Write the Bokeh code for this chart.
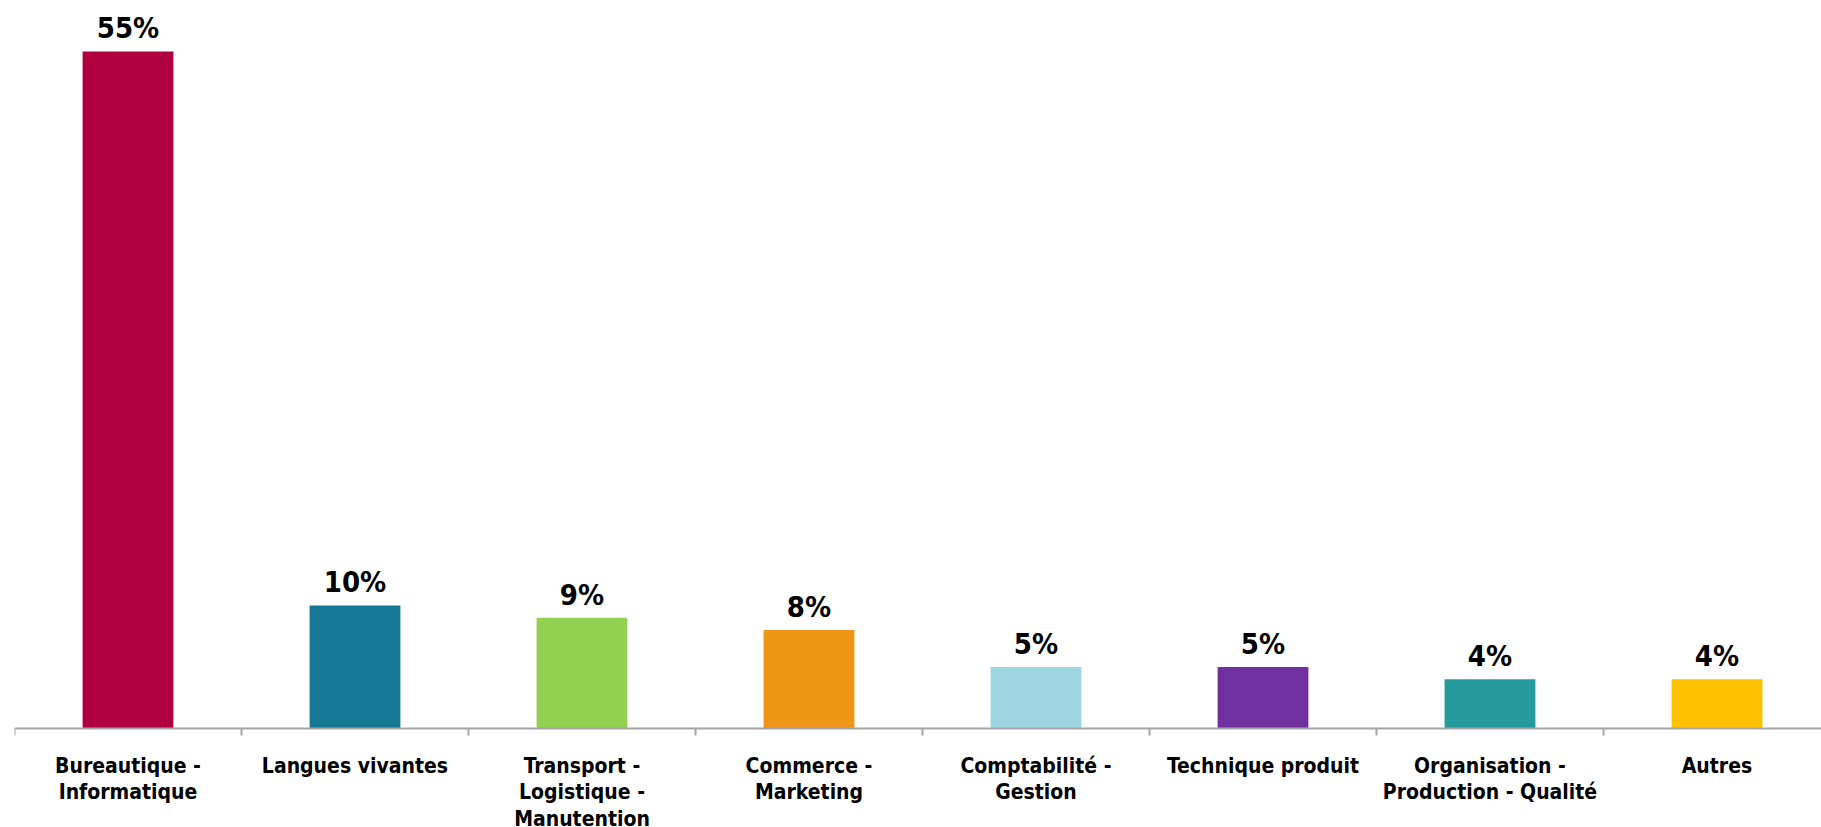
from bokeh.plotting import figure
from bokeh.models import Range1d, FixedTicker, LinearAxis, ColumnDataSource
from bokeh.core.properties import value
from bokeh.embed import file_html
from bokeh.resources import INLINE

categories = [
    "Bureautique -\nInformatique",
    "Langues vivantes",
    "Transport -\nLogistique -\nManutention",
    "Commerce -\nMarketing",
    "Comptabilité -\nGestion",
    "Technique produit",
    "Organisation -\nProduction - Qualité",
    "Autres",
]
values = [55, 10, 9, 8, 5, 5, 4, 4]
value_labels = ["55%", "10%", "9%", "8%", "5%", "5%", "4%", "4%"]
colors = ["#B1003E", "#167A96", "#92D050", "#EF9617", "#9DD5E2", "#7030A0", "#259A9A", "#FFC000"]

FONT = "DejaVu Sans Condensed"

W, H = 1821, 827
left = 14
cat_px = 227.0
frame_w = W - left
axis_y_px = 728
px_per_unit = 12.31

centers = [i + 0.5 for i in range(len(categories))]
src = ColumnDataSource(dict(x=centers, top=values, lab=value_labels, color=colors))

p = figure(width=W, height=H, output_backend="svg", toolbar_location=None,
           x_range=Range1d(0, frame_w / cat_px),
           y_range=Range1d(-(H - axis_y_px) / px_per_unit, axis_y_px / px_per_unit),
           x_axis_location=None, y_axis_location=None,
           min_border_left=left, min_border_right=0, min_border_top=0, min_border_bottom=0)
p.outline_line_color = None
p.xgrid.visible = False
p.ygrid.visible = False
p.background_fill_color = "white"
p.border_fill_color = "white"

p.vbar(x="x", top="top", bottom=0, width=0.4, color="color", line_color=None, source=src)
p.text(x="x", y="top", text="lab", source=src, text_align="center", text_baseline="alphabetic",
       y_offset=-23, text_font=value(FONT), text_font_style="bold", text_font_size="29px",
       text_color="black")

# axis with boundary ticks
ax1 = LinearAxis(fixed_location=0, ticker=FixedTicker(ticks=list(range(len(categories) + 1))))
ax1.axis_line_color = "#A6A6A6"
ax1.axis_line_width = 2
ax1.major_tick_line_color = "#A6A6A6"
ax1.major_tick_line_width = 2
ax1.major_tick_in = 0
ax1.major_tick_out = 7
ax1.minor_tick_line_color = None
ax1.major_label_text_font_size = "0px"
ax1.major_label_text_alpha = 0
p.add_layout(ax1, "below")

# axis with category labels at centres
ax2 = LinearAxis(fixed_location=0, ticker=FixedTicker(ticks=centers))
ax2.axis_line_color = None
ax2.major_tick_line_color = None
ax2.minor_tick_line_color = None
ax2.major_tick_out = 0
ax2.major_tick_in = 0
ax2.major_label_standoff = 25
ax2.major_label_overrides = {c: lab for c, lab in zip(centers, categories)}
ax2.major_label_text_font = FONT
ax2.major_label_text_font_style = "bold"
ax2.major_label_text_font_size = "21px"
ax2.major_label_text_color = "black"
ax2.major_label_text_line_height = 1.12
p.add_layout(ax2, "below")

open("out.html", "w").write(file_html(p, INLINE))
